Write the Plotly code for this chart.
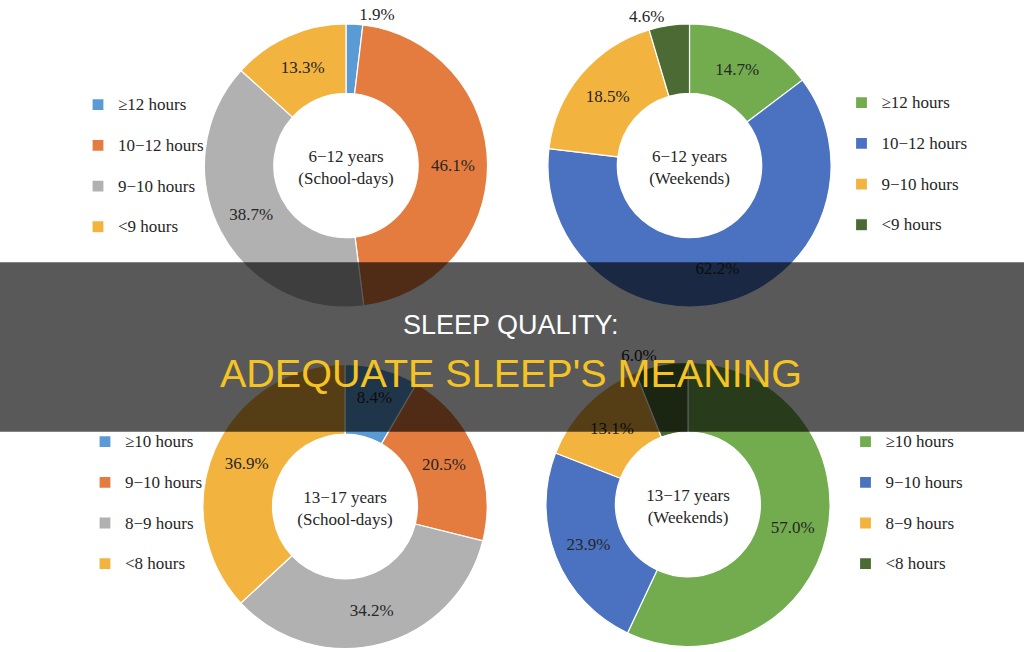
import plotly.graph_objects as go

W, H = 1024, 652

# ---------------- data ----------------
tl_labels = ["≥12 hours", "10−12 hours", "9−10 hours", "<9 hours"]
tl_values = [1.9, 46.1, 38.7, 13.3]
tr_labels = ["≥12 hours", "10−12 hours", "9−10 hours", "<9 hours"]
tr_values = [14.7, 62.2, 18.5, 4.6]
bl_labels = ["≥10 hours", "9−10 hours", "8−9 hours", "<8 hours"]
bl_values = [8.4, 20.5, 34.2, 36.9]
br_labels = ["≥10 hours", "9−10 hours", "8−9 hours", "<8 hours"]
br_values = [57.0, 23.9, 13.1, 6.0]
centre_titles = ["6−12 years<br>(School-days)", "6−12 years<br>(Weekends)",
                 "13−17 years<br>(School-days)", "13−17 years<br>(Weekends)"]
headline = "SLEEP QUALITY:"
subline = "ADEQUATE SLEEP'S MEANING"

# ---------------- styles ----------------
BLUE, ORANGE, GRAY, GOLD = "#5B9BD5", "#E57C3F", "#B1B1B1", "#F3B33F"
GREEN, BLUE2, DKGREEN = "#72AC4E", "#4A72C0", "#4B6A34"
school_colors = [BLUE, ORANGE, GRAY, GOLD]
weekend_colors = [GREEN, BLUE2, GOLD, DKGREEN]
SERIF = "Liberation Serif, Times New Roman, serif"
TXT = "#262626"


def px_domain(cx, cy, r):
    return dict(x=[(cx - r) / W, (cx + r) / W], y=[1 - (cy + r) / H, 1 - (cy - r) / H])


def legend_label(s, k):
    # the trailing blank line (unique per chart) keeps each legend separate
    s = s.replace("<", "&lt;")
    return '<span style="font-size:17px">' + s + '</span><br>' + "\u00a0" * (k + 1)


def text_pos(values):
    return ["outside" if v < 7 else "inside" for v in values]


pies = [
    (tl_labels, tl_values, school_colors, px_domain(346, 165, 142), centre_titles[0], "legend"),
    (tr_labels, tr_values, weekend_colors, px_domain(689.5, 165, 142), centre_titles[1], "legend2"),
    (bl_labels, bl_values, school_colors, px_domain(345, 507, 142.5), centre_titles[2], "legend3"),
    (br_labels, br_values, weekend_colors, px_domain(688, 505, 142.5), centre_titles[3], "legend4"),
]

fig = go.Figure()
for k, (labels, values, colors, dom, title, leg) in enumerate(pies):
    fig.add_trace(go.Pie(
        labels=[legend_label(l, k) for l in labels],
        values=values,
        sort=False,
        direction="clockwise",
        rotation=0,
        hole=0.51,
        domain=dom,
        marker=dict(colors=colors, line=dict(color="white", width=1.2)),
        texttemplate="%{value:.1f}%",
        textposition=text_pos(values),
        insidetextorientation="horizontal",
        textfont=dict(family=SERIF, size=17, color=TXT),
        title=dict(text=title, position="middle center",
                   font=dict(family=SERIF, size=17, color=TXT)),
        legend=leg,
        showlegend=True,
        hoverinfo="percent",
    ))

legend_common = dict(
    font=dict(family=SERIF, size=14.5, color=TXT),
    bgcolor="rgba(0,0,0,0)",
    borderwidth=0,
    valign="top",
    xanchor="left",
    yanchor="top",
    traceorder="normal",
)


def legend_at(marker_cx, top_px):
    return dict(legend_common, x=(marker_cx - 20) / W, y=1 - top_px / H)


fig.update_layout(
    width=W, height=H,
    margin=dict(l=0, r=0, t=0, b=0),
    paper_bgcolor="white",
    plot_bgcolor="white",
    legend=legend_at(98, 88),
    legend2=legend_at(861.5, 86),
    legend3=legend_at(105, 426),
    legend4=legend_at(865.5, 426),
    shapes=[dict(type="rect", xref="paper", yref="paper", x0=0, x1=1,
                 y0=1 - 432 / H, y1=1 - 262 / H,
                 fillcolor="rgba(0,0,0,0.65)", line=dict(width=0), layer="above")],
    annotations=[
        dict(text=headline, xref="paper", yref="paper", x=510.5 / W, y=1 - 324.5 / H,
             xanchor="center", yanchor="middle", showarrow=False,
             font=dict(family="Liberation Sans, Arial, sans-serif", size=27, color="white")),
        dict(text=subline, xref="paper", yref="paper", x=510.5 / W, y=1 - 373 / H,
             xanchor="center", yanchor="middle", showarrow=False,
             font=dict(family="Liberation Sans, Arial, sans-serif", size=39.5, color="#F5C422")),
    ],
)

fig.write_html("out.html")
